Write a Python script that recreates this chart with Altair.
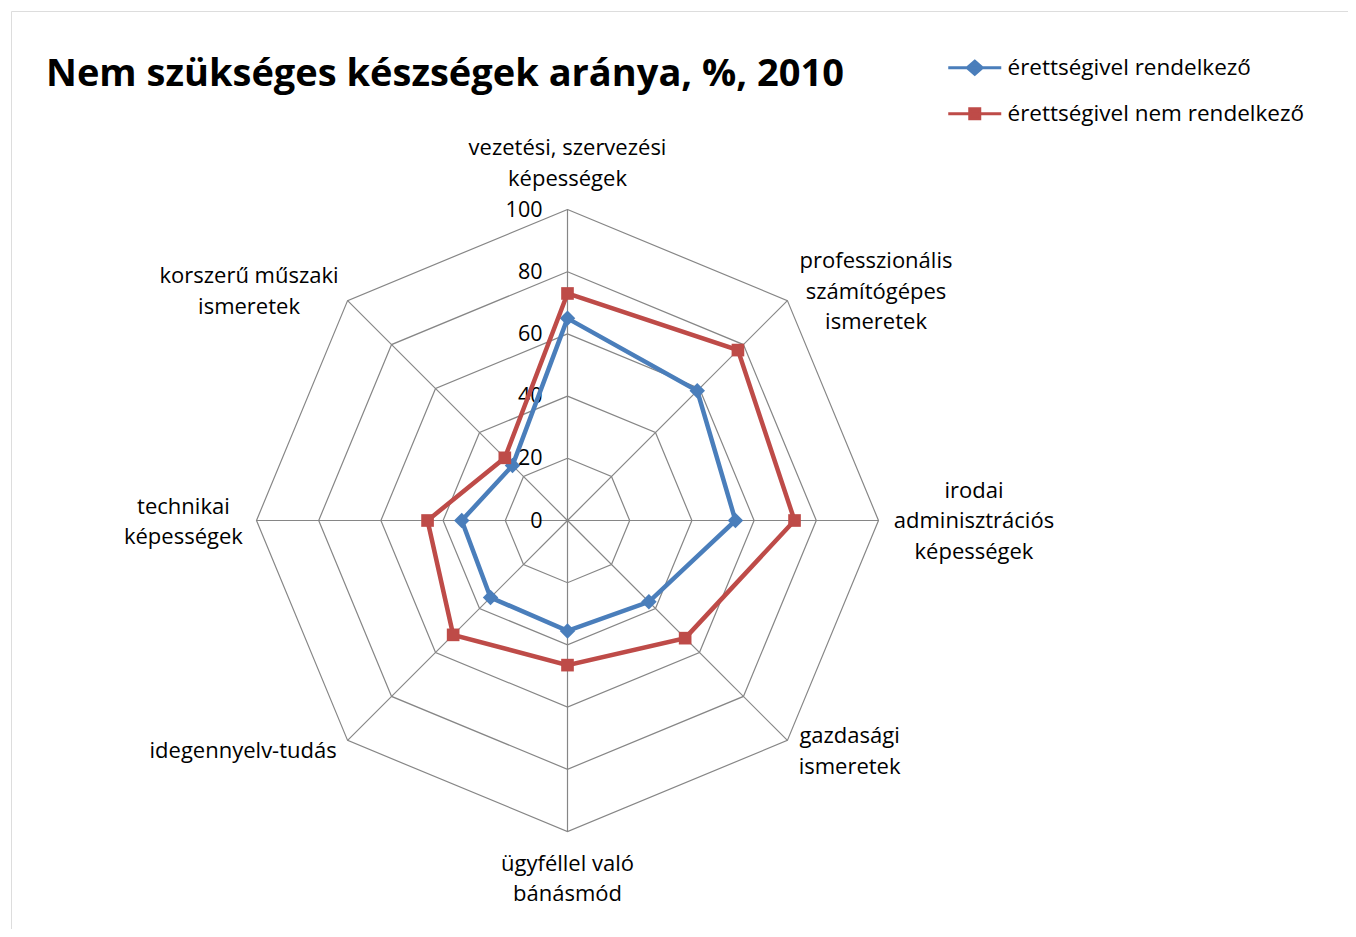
import altair as alt
import pandas as pd

# ---------------- data ----------------
categories = [
    "vezetési, szervezési\nképességek",
    "professzionális\nszámítógépes\nismeretek",
    "irodai\nadminisztrációs\nképességek",
    "gazdasági\nismeretek",
    "ügyféllel való\nbánásmód",
    "idegennyelv-tudás",
    "technikai\nképességek",
    "korszerű műszaki\nismeretek",
]
series_names = ["érettségivel rendelkező", "érettségivel nem rendelkező"]
values_with = [65, 59, 54, 37, 35.5, 35, 34, 25]
values_without = [73, 77.5, 73, 53.5, 46.5, 52, 45, 28.5]
tick_values = [0, 20, 40, 60, 80, 100]
tick_labels = ["0", "20", "40", "60", "80", "100"]

# ---------------- layout / style ----------------
FONT = "Open Sans"
BLUE = "#4A7EBB"
RED = "#BE4B48"
GRID = "#868686"
PX = 3.11                       # pixels per value unit
VIEW_W, VIEW_H = 1345, 930      # view runs past the page edge on the right/bottom (clipped)
CX, CY = 556.5, 509.5           # centre of the radar inside the view (px)
LH = 30.5                       # label line height (px)
# label block centres (value units, relative to the radar centre)
label_layout = [(0, 114.8), (99.2, 73.6), (130.7, -0.2), (90.7, -74.3),
                (0, -115.3), (-104.3, -74.1), (-123.5, -0.5), (-102.4, 73.6)]

n = len(categories)
rmax = max(tick_values)
xscale = alt.Scale(domain=[-CX / PX, (VIEW_W - CX) / PX], nice=False, zero=False)
yscale = alt.Scale(domain=[-(VIEW_H - CY) / PX, CY / PX], nice=False, zero=False)
theta_expr = f"PI/2 - datum.k*2*PI/{n}"

# series table (closed polygon: first point repeated)
rows = []
for s, vals in zip(series_names, [values_with, values_without]):
    for k in range(n + 1):
        rows.append({"series": s, "k": k, "value": vals[k % n]})
series_df = pd.DataFrame(rows)

ring_df = pd.DataFrame([{"level": lv, "k": k} for lv in tick_values[1:] for k in range(n + 1)])
spoke_df = pd.DataFrame({"k": list(range(n)), "value": [rmax] * n})
tick_df = pd.DataFrame({"level": tick_values, "label": tick_labels})
# first-line anchor of each multi-line label block (Vega starts the block at the anchor)
label_df = pd.DataFrame({
    "cat": categories,
    "lx": [p[0] for p in label_layout],
    "ly": [p[1] + (c.count("\n")) * LH / 2 / PX for p, c in zip(label_layout, categories)],
})

X = lambda f: alt.X(f, type="quantitative", scale=xscale, axis=None)
Y = lambda f: alt.Y(f, type="quantitative", scale=yscale, axis=None)

rings = alt.Chart(ring_df).mark_line(color=GRID, strokeWidth=1.2).transform_calculate(
    theta=theta_expr,
    x="datum.level*cos(datum.theta)",
    y="datum.level*sin(datum.theta)",
).encode(x=X("x"), y=Y("y"), detail="level:N", order="k:Q")

spokes = alt.Chart(spoke_df).mark_rule(color=GRID, strokeWidth=1.2).transform_calculate(
    theta=theta_expr,
    x0="0",
    y0="0",
    x="datum.value*cos(datum.theta)",
    y="datum.value*sin(datum.theta)",
).encode(x=X("x0"), y=Y("y0"), x2="x:Q", y2="y:Q")

ticks = alt.Chart(tick_df).mark_text(
    align="right", baseline="middle", dx=-25, dy=1, font=FONT, fontSize=21.5, color="#000000"
).transform_calculate(x0="0").encode(x=X("x0"), y=Y("level"), text="label:N")

labels = alt.Chart(label_df).mark_text(
    align="center", baseline="middle", lineBreak="\n", lineHeight=LH,
    font=FONT, fontSize=22, color="#000000"
).encode(x=X("lx"), y=Y("ly"), text="cat:N")

base = alt.Chart(series_df).transform_calculate(
    theta=theta_expr,
    x="datum.value*cos(datum.theta)",
    y="datum.value*sin(datum.theta)",
)

legend_paths = [
    "M-5.3,0L5.3,0M0,-1.3L1.5,0L0,1.3L-1.5,0Z",   # line + diamond
    "M-5.3,0L5.3,0M-1,-1L1,-1L1,1L-1,1Z",          # line + square
]
marker_shapes = ["diamond", "square"]
marker_sizes = [240, 160]
series_colors = [BLUE, RED]
legend_y = [45.5, 91.5]

series_layers = []
for i, s in enumerate(series_names):
    sub = base.transform_filter(alt.datum.series == s)
    leg = alt.Legend(
        title=None, orient="none", legendX=952.5, legendY=legend_y[i], padding=0,
        labelFont=FONT, labelFontSize=22.5, labelColor="#000000", labelLimit=0,
        symbolType=legend_paths[i], symbolSize=100, symbolStrokeWidth=3,
        symbolFillColor=series_colors[i], symbolStrokeColor=series_colors[i],
        symbolOpacity=1, symbolOffset=0, labelOffset=21.5,
    )
    col = alt.Color("series:N", scale=alt.Scale(domain=[s], range=[series_colors[i]]), legend=leg)
    line = sub.mark_line(strokeWidth=4.5, color=series_colors[i]).encode(
        x=X("x"), y=Y("y"), order="k:Q")
    pts = sub.transform_filter(f"datum.k < {n}").mark_point(
        filled=True, opacity=1, shape=marker_shapes[i], size=marker_sizes[i]
    ).encode(x=X("x"), y=Y("y"), color=col)
    series_layers.append(alt.layer(line, pts))

chart = alt.layer(rings, spokes, ticks, labels, *series_layers).resolve_scale(
    color="independent"
).properties(
    width=VIEW_W, height=VIEW_H, autosize="none",
    # negative right/bottom padding: the chart is 1340x921 px and the frame's
    # right and bottom edges fall outside it, as in the cropped original
    padding={"left": 3, "top": 3, "right": -8, "bottom": -12},
    title=alt.TitleParams(
        text="Nem szükséges készségek aránya, %, 2010", anchor="start", frame="group",
        font=FONT, fontSize=38, fontWeight="bold", color="#000000",
        baseline="alphabetic", offset=0, dx=35, dy=113),
).configure_view(stroke="#8A8A8A", strokeWidth=2).configure(background="white")

chart.save("out.html", embed_options={"renderer": "svg", "actions": False})
